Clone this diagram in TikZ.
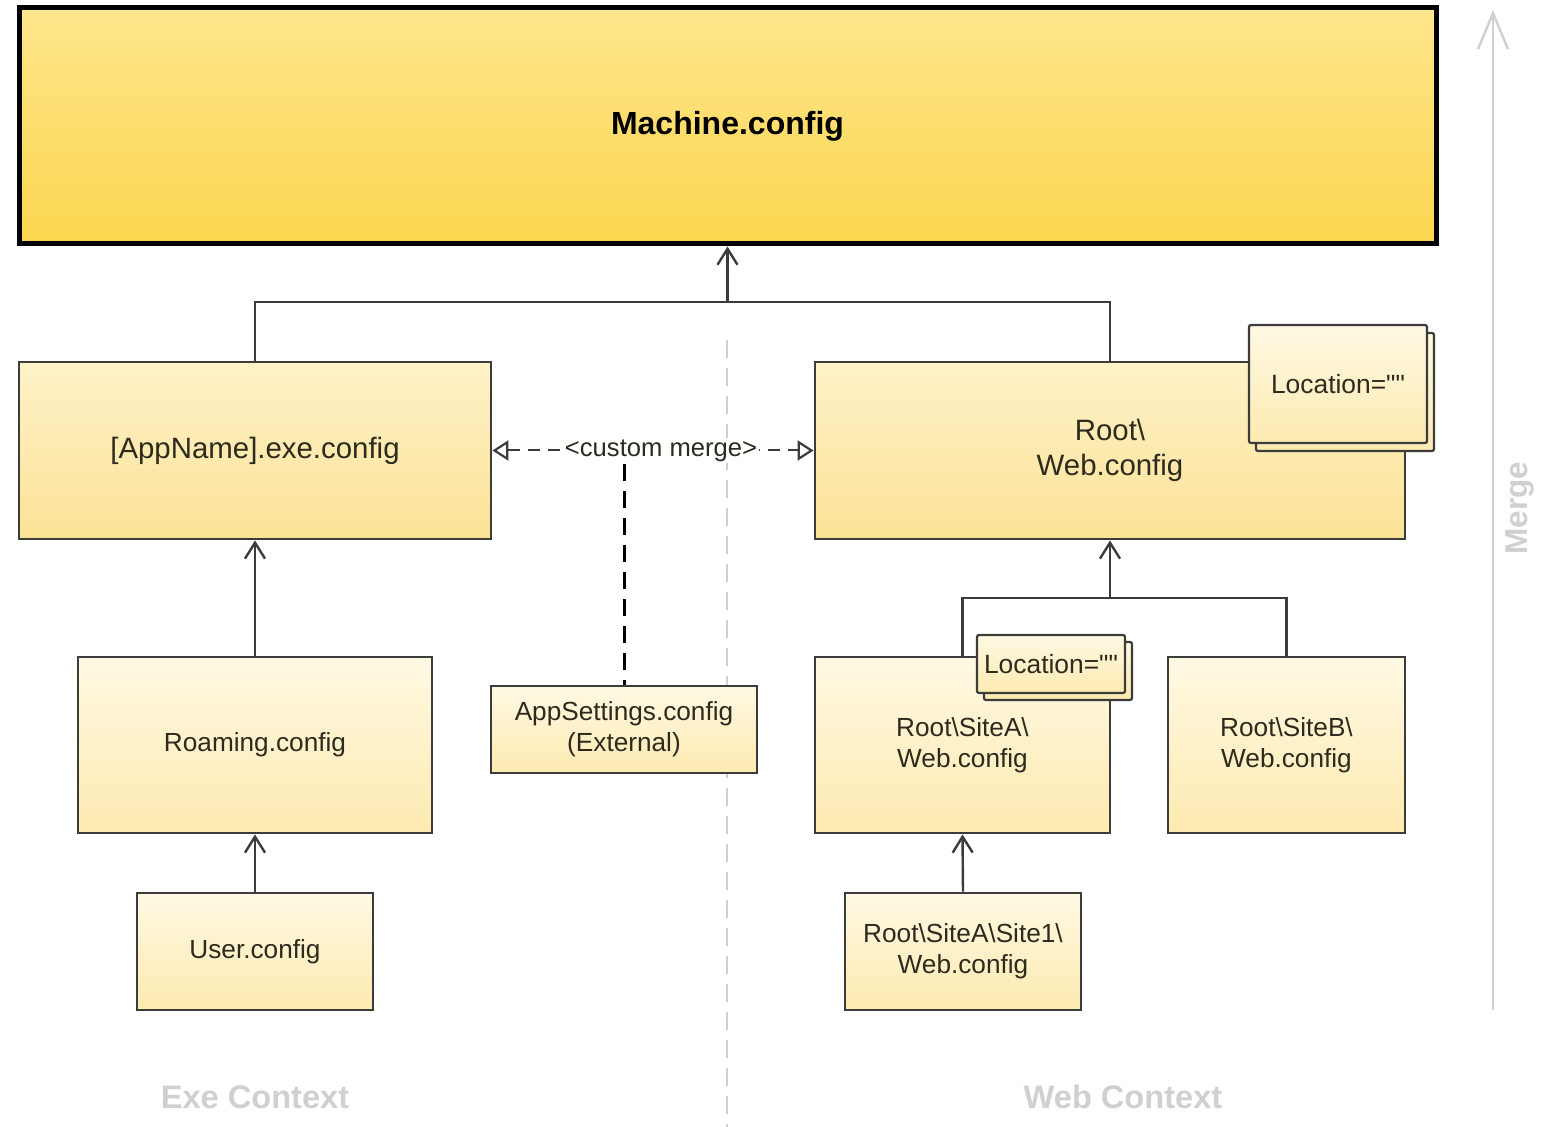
\documentclass[tikz,border=0pt]{standalone}
\usepackage{fontspec}
\setmainfont{Liberation Sans}
\newfontfamily\rawfont[Ligatures=ResetAll]{Liberation Sans}
\usetikzlibrary{arrows.meta}
\definecolor{txt}{RGB}{45,42,30}
\definecolor{edge}{RGB}{60,60,58}
\definecolor{mtop}{RGB}{253,230,140}
\definecolor{mbot}{RGB}{252,214,80}
\definecolor{atop}{RGB}{254,242,200}
\definecolor{abot}{RGB}{252,226,150}
\definecolor{ltop}{RGB}{255,249,228}
\definecolor{lbot}{RGB}{253,234,176}
\definecolor{faint}{RGB}{208,208,208}
\begin{document}
\begin{tikzpicture}[x=0.5pt,y=-0.5pt,
  box/.style={draw=edge, line width=1.4pt, top color=atop, bottom color=abot, text=txt, align=center, inner sep=0pt, font=\fontsize{14.7}{17.5}\selectfont},
  lowbox/.style={box, top color=ltop, bottom color=lbot, font=\fontsize{13.1}{15.5}\selectfont},
  notebox/.style={draw=edge, line width=1.1pt, top color=ltop, bottom color=lbot, rounded corners=1pt, inner sep=0pt, text=txt, font=\rawfont\fontsize{13.2}{15.5}\selectfont},
  conn/.style={draw=edge, line width=1.2pt},
  arrowup/.style={-{Straight Barb[length=8pt,width=10pt,line width=1.2pt]}},
  opentri/.style={{Triangle[open,length=8pt,width=10pt,line width=1.1pt,fill=white]}-{Triangle[open,length=8pt,width=10pt,line width=1.1pt,fill=white]}},
  ctx/.style={text=faint, font=\bfseries\fontsize{16.3}{19}\selectfont}
]
\useasboundingbox[fill=white] (0,0) rectangle (1560,1127);

% divider and merge axis
\coordinate (dtop) at (727,340);
\coordinate (dbot) at (727,1127);
\draw[faint, line width=1pt, dash pattern=on 9pt off 5pt] (dtop) -- (dbot);
\coordinate (mb) at (1493,1010);
\coordinate (mt) at (1493,10);
\draw[faint, line width=1.2pt, -{Straight Barb[length=18pt,width=15pt,line width=1.2pt]}] (mb) -- (mt);
\node[rotate=90, text=faint, font=\bfseries\fontsize{15.8}{18}\selectfont] (mlbl) at (1520,508) {Merge};

% boxes
\node[draw=black, line width=2.5pt, top color=mtop, bottom color=mbot, minimum width=708.5pt, minimum height=118pt, font=\bfseries\fontsize{16}{19}\selectfont, text=black] (machine) at (727.5,126) {Machine.config};
\node[box, minimum width=236pt, minimum height=88.5pt] (appname) at (255,450.5) {[AppName].exe.config};
\node[box, minimum width=295pt, minimum height=88.5pt] (root) at (1110,450.5) {Root\textbackslash\\Web.config};
\node[lowbox, minimum width=177pt, minimum height=88pt] (roaming) at (255,745) {Roaming.config};
\node[lowbox, minimum width=118pt, minimum height=58.5pt] (user) at (255,951.5) {User.config};
\node[lowbox, minimum width=133pt, minimum height=43.5pt] (apps) at (624,729.5) {AppSettings.config\\(External)};
\node[lowbox, minimum width=147.5pt, minimum height=88pt] (sitea) at (962.5,745) {Root\textbackslash SiteA\textbackslash\\Web.config};
\node[lowbox, minimum width=118.5pt, minimum height=88pt] (siteb) at (1286.5,745) {Root\textbackslash SiteB\textbackslash\\Web.config};
\node[lowbox, minimum width=118pt, minimum height=58.5pt] (site1) at (963,951.5) {Root\textbackslash SiteA\textbackslash Site1\textbackslash\\Web.config};

% connectors
\coordinate (jm) at (727.5,302);
\draw[conn] (appname.north) |- (jm) -| (root.north);
\draw[conn, arrowup] (jm) -- (machine.south);
\draw[conn, arrowup] (roaming.north) -- (appname.south);
\draw[conn, arrowup] (user.north) -- (roaming.south);
\coordinate (jw) at (1110,598);
\draw[conn] (sitea.north) |- (jw) -| (siteb.north);
\draw[conn, line width=1.4pt, arrowup] (jw) -- (root.south);
\draw[conn, arrowup] (site1.north) -- (sitea.south);

% custom merge
\draw[draw=edge, line width=1pt, dash pattern=on 6pt off 4pt, opentri] (appname.east) -- node[pos=0.525, fill=white, inner sep=1pt, text=txt, font=\fontsize{12.8}{15}\selectfont] (cm) {<custom merge>} (root.west);
\draw[black, line width=1.5pt, dash pattern=on 8.5pt off 5pt] (apps.north |- cm.south) -- (apps.north);

% location notes
\node[notebox, minimum width=89pt, minimum height=59pt] (n1b) at (1345,392) {};
\node[notebox, minimum width=89pt, minimum height=59pt] (n1) at (1338,384) {Location=""};
\node[notebox, minimum width=74pt, minimum height=29pt] (n2b) at (1058,671) {};
\node[notebox, minimum width=74pt, minimum height=29pt] (n2) at (1051,664) {Location=""};

% context labels
\node[ctx] (exectx) at (255,1097) {Exe Context};
\node[ctx] (webctx) at (1123,1097) {Web Context};
\end{tikzpicture}
\end{document}
